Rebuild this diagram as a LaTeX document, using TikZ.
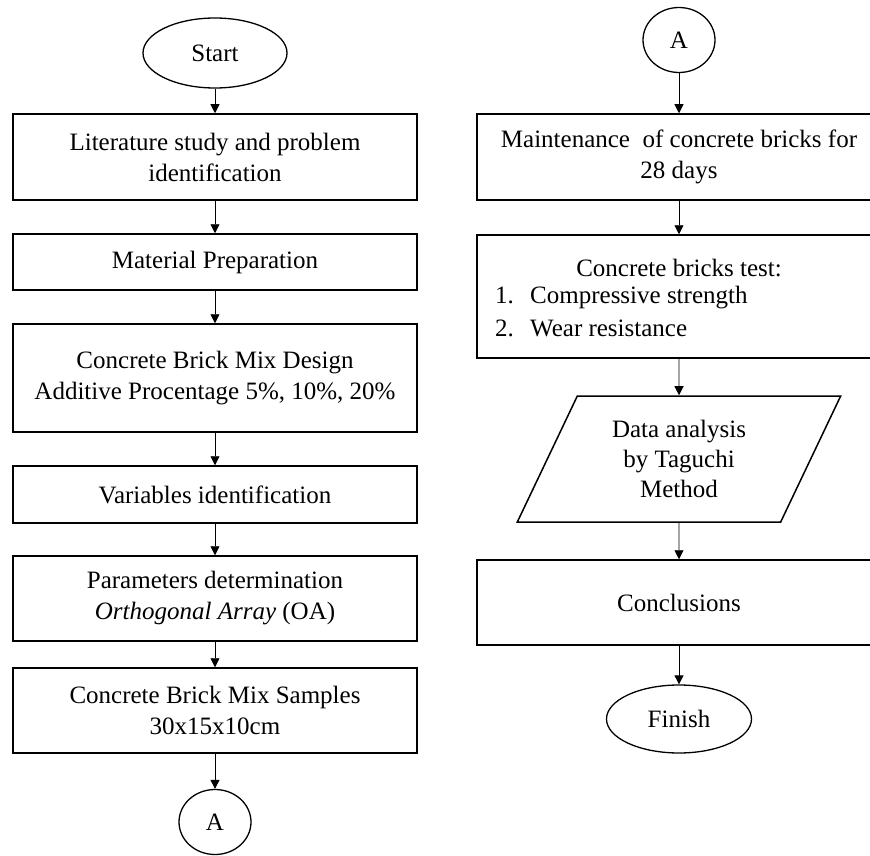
\documentclass[tikz,border=0pt]{standalone}
\usepackage{fontspec}
\setmainfont{Liberation Serif}
\usetikzlibrary{shapes.geometric, arrows.meta, positioning}

\tikzset{
  flowfont/.style={font=\fontsize{25}{31}\selectfont},
  procbox/.style={draw, line width=1.5pt, rectangle, minimum width=404pt, inner sep=0pt, align=center, flowfont},
  termnode/.style={draw, line width=1.3pt, ellipse, inner sep=0pt, flowfont},
  datanode/.style={draw, line width=1.5pt, trapezium, trapezium left angle=63, trapezium right angle=117,
    trapezium stretches=true, minimum width=324pt, minimum height=126pt, inner sep=0pt, align=center,
    font=\fontsize{25}{30}\selectfont},
  flowarrow/.style={-{Triangle[length=9pt,width=9pt]}, line width=0.9pt},
}

\begin{document}
\begin{tikzpicture}[x=1pt, y=-1pt]
  \useasboundingbox (0,0) rectangle (870,856);
  \clip (0,0) rectangle (870,856);

  % Left column
  \node[termnode, minimum width=144pt, minimum height=70pt] (start) at (215,53) {Start};
  \node[procbox, minimum height=86pt] (lit) at (215,157) {Literature study and problem\\identification};
  \node[procbox, minimum height=56pt] (mat) at (215,262) {Material Preparation};
  \node[procbox, minimum height=108pt] (mix) at (215,378) {Concrete Brick Mix Design\\Additive Procentage 5\%, 10\%, 20\%};
  \node[procbox, minimum height=57pt] (var) at (215,494.5) {Variables identification};
  \node[procbox, minimum height=85pt] (par) at (215,598.5) {Parameters determination\\\textit{Orthogonal Array} (OA)};
  \node[procbox, minimum height=85pt] (sam) at (215,710.5) {Concrete Brick Mix Samples\\30x15x10cm};
  \node[termnode, minimum width=72pt, minimum height=65pt] (aout) at (215,822) {A};

  % Right column
  \node[termnode, minimum width=72pt, minimum height=65pt] (ain) at (679,40) {A};
  \node[procbox, minimum height=86pt] (maint) at (679,157) {Maintenance\ \ of concrete bricks for\\28 days};
  \node[procbox, minimum height=123pt] (test) at (679,296.5) {};
  \node[flowfont, inner sep=0pt] (testhead) at (679,268) {Concrete bricks test:};
  \node[flowfont, inner sep=0pt, anchor=west] (testone) at (495,298) {\makebox[35pt][l]{1.}Compressive strength};
  \node[flowfont, inner sep=0pt, anchor=west] (testtwo) at (495,328) {\makebox[35pt][l]{2.}Wear resistance};
  \node[datanode] (anal) at (679,459) {Data analysis\\by Taguchi\\Method};
  \node[procbox, minimum height=85pt] (concl) at (679,602.5) {Conclusions};
  \node[termnode, minimum width=145pt, minimum height=68pt] (finish) at (679,719) {Finish};

  % Arrows
  \draw[flowarrow] (start) -- (lit);
  \draw[flowarrow] (lit) -- (mat);
  \draw[flowarrow] (mat) -- (mix);
  \draw[flowarrow] (mix) -- (var);
  \draw[flowarrow] (var) -- (par);
  \draw[flowarrow] (par) -- (sam);
  \draw[flowarrow] (sam) -- (aout);
  \draw[flowarrow] (ain) -- (maint);
  \draw[flowarrow] (maint) -- (test);
  \draw[flowarrow] (test) -- (anal);
  \draw[flowarrow] (anal) -- (concl);
  \draw[flowarrow] (concl) -- (finish);
\end{tikzpicture}
\end{document}
